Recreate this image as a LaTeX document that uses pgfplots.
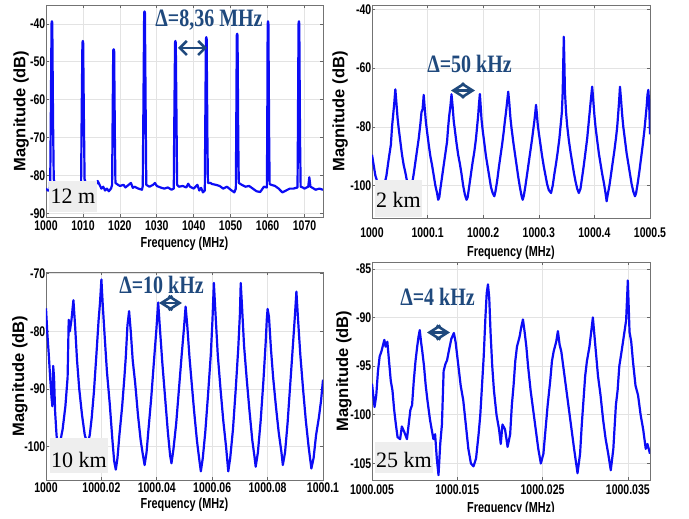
\documentclass[border=0pt]{standalone}
\usepackage{pgfplots}
\pgfplotsset{compat=1.18}
\usetikzlibrary{arrows.meta}
\usepackage{fontspec}
\setmainfont{Liberation Sans}
\newfontfamily\tickfont[FakeStretch=0.75]{Liberation Sans}
\newfontfamily\annfont[FakeStretch=0.8]{Liberation Serif}
\newfontfamily\boxfont{Liberation Serif}
\definecolor{annblue}{RGB}{31,73,125}
\definecolor{boxgray}{RGB}{238,238,238}
\definecolor{lineblue}{RGB}{12,12,245}
\pgfplotsset{
  spec/.style={
    anchor=south west, scale only axis,
    axis line style={black!55, line width=0.7pt},
    tick align=inside, major tick length=3pt,
    tick style={black!60, line width=0.6pt},
    grid=major, major grid style={gray!22, line width=0.6pt},
    ticklabel style={font=\tickfont\bfseries\fontsize{14}{14}\selectfont},
    yticklabel style={inner sep=0.5pt},
    xticklabel style={inner sep=0pt, anchor=north},
    /pgf/number format/assume math mode=true,
    xlabel style={font=\tickfont\bfseries\fontsize{14.5}{14.5}\selectfont, anchor=north, inner sep=0pt},
    ylabel style={font=\bfseries\fontsize{16.5}{16.5}\selectfont, anchor=center, inner sep=0pt},
    xlabel={Frequency (MHz)}, ylabel={Magnitude (dB)},
  },
  spline/.style={lineblue, line width=2.2pt, line join=round, no markers},
}
\begin{document}
\begin{tikzpicture}[x=1pt,y=1pt]
\useasboundingbox (0,0) rectangle (689,519);
% ---------------- Panel 1: 12 m ----------------
\begin{axis}[spec, at={(46pt,302pt)}, width=277pt, height=212pt,
  xmin=1000, xmax=1075, ymin=-91, ymax=-35,
  xtick={1000,1010,1020,1030,1040,1050,1060,1070},
  xticklabels={1000,1010,1020,1030,1040,1050,1060,1070},
  ytick={-90,-80,-70,-60,-50,-40},
  xticklabel style={yshift=-4pt},
  xlabel style={at={(axis description cs:0.5,0)}, yshift=-20pt},
  ylabel style={at={(axis description cs:-0.090,0.5)}}]
\addplot[spline] table {
x y
1000 -83.5
1000.5 -84
1001 -84
1001.15 -81
1001.3 -65
1001.5 -39.8
1001.6 -39.3
1001.7 -39.8
1001.9 -65
1002.1 -81
1002.5 -82.5
1003 -83
1004 -83.2
1005 -82.8
1006 -83.4
1007 -83
1008 -83.6
1009 -83.2
1009.5 -82.5
1009.65 -65
1009.86 -45
1009.96 -44.5
1010.06 -45
1010.26 -65
1010.45 -81
1011 -82.8
1012 -83
1013 -83.5
1014 -81.5
1014.5 -82.5
1015 -83.5
1015.5 -83
1016 -84
1016.5 -83.5
1017 -84.2
1017.6 -83.5
1017.9 -82.5
1018.0 -70
1018.2 -47
1018.32 -46.7
1018.45 -47
1018.65 -70
1018.8 -82
1019.5 -82.5
1020 -82.8
1021 -82.5
1021.5 -83.2
1022 -82.8
1023 -82
1023.5 -83.3
1024 -83
1025 -83.5
1026 -83.8
1026.2 -82.8
1026.35 -65
1026.58 -37
1026.68 -36.7
1026.78 -37
1027 -65
1027.15 -82.5
1028 -83
1029 -82.5
1029.5 -82
1030 -82.8
1031 -83.2
1032 -83.5
1033 -83.2
1034 -83.8
1034.6 -83.5
1034.7 -70
1034.94 -45
1035.04 -44.5
1035.14 -45
1035.38 -70
1035.5 -82.5
1036 -83
1037 -82.8
1038 -83.2
1038.5 -82.2
1039 -83
1040 -83.5
1041 -82.5
1041.5 -84
1042 -83.3
1042.5 -84.5
1043 -84
1043.1 -70
1043.3 -44
1043.4 -43.5
1043.5 -44
1043.7 -70
1043.85 -82
1044.5 -82
1045 -82.3
1046 -82.5
1047 -82.8
1048 -83.5
1049 -83
1050 -83.8
1051 -84.5
1051.4 -83.5
1051.5 -70
1051.66 -43
1051.76 -42.6
1051.86 -43
1052.05 -70
1052.2 -82
1053 -82.5
1054 -83
1055 -82.8
1056 -83.5
1057 -84.2
1058 -84.4
1059 -83
1059.8 -83.2
1059.9 -70
1060.02 -40
1060.12 -39.3
1060.22 -40
1060.42 -70
1060.55 -82.3
1061 -82.5
1062 -82.8
1063 -83.5
1064 -84.5
1065 -84
1066 -83.5
1067 -83.5
1068.1 -83.2
1068.2 -70
1068.38 -40
1068.48 -39.3
1068.58 -40
1068.78 -70
1068.95 -83
1069.5 -83.2
1070 -83.5
1071 -83
1071.3 -80.5
1071.6 -83
1072 -83.2
1073 -83.8
1074 -83.5
1075 -83.8
};
\end{axis}
% ---------------- Panel 2: 2 km (x in kHz above 1000 MHz) ----------------
\begin{axis}[spec, at={(372pt,301pt)}, width=278pt, height=213pt,
  xmin=0, xmax=500, ymin=-111, ymax=-38.5,
  xtick={0,100,200,300,400,500},
  xticklabels={1000,1000.1,1000.2,1000.3,1000.4,1000.5},
  ytick={-100,-80,-60,-40},
  xticklabel style={yshift=-10pt},
  xlabel style={at={(axis description cs:0.5,0)}, yshift=-28pt},
  ylabel style={at={(axis description cs:-0.115,0.5)}}]
\addplot[spline] table {
x y
0 -89.5
3 -93
6 -96.5
10 -99
14 -101.5
18 -102.5
22 -100
26 -96.5
30 -91
34 -86
36 -80
38.5 -75
40 -72
42 -67.2
44 -72
46 -77
48 -80.5
51 -85
54 -89.5
57 -93
60 -95.5
63 -98.5
66 -101
69 -102
72 -99.5
75 -96
78 -92
81 -88
84 -84
87 -79
89 -75
91 -74
93 -69.1
95 -74
97 -78.5
99 -81.5
102 -86
105 -90
108 -93
111 -96.5
114 -100
117 -102.5
119 -104.8
121 -104
123 -101
126 -97
129 -93
132 -89
135 -85
137 -80
139 -76
141 -73
143 -68.9
145 -73
147 -78
149 -81
152 -85.5
155 -89.5
158 -92.5
161 -96
164 -100
167 -103
170 -104.8
172 -104
175 -100
178 -96
181 -92
184 -88.5
187 -84
189 -80
191 -76
192.5 -72
194 -68.8
195.5 -73
197 -77.5
199 -81
202 -85.5
205 -90
208 -93.5
211 -97
214 -100.5
217 -102.5
220 -103.6
222 -102
225 -98.5
228 -94
231 -90
234 -86
237 -81.5
239 -78
241 -75
243 -71.5
245 -68
247 -72
249 -77
251 -80.5
254 -85
257 -89
260 -93
263 -97
266 -100.5
269 -103.5
271 -104.8
273 -103.5
276 -100
279 -96
282 -92
285 -88
288 -84
290 -81
292 -78
293.5 -75.5
295 -72.5
296.5 -75.5
298 -79
300 -82
303 -86
306 -90
309 -93.5
312 -96.5
315 -99.5
318 -101.5
322 -102.5
325 -100
328 -96
331 -92.5
334 -88.5
337 -84
339.5 -79
341.5 -75
343 -68
344 -58
345 -49.3
346 -58
347 -68
349 -75
351 -79.5
354 -84.5
357 -88.5
360 -92
363 -95.5
366 -98.5
369 -101
372 -102.5
375 -101
378 -97
381 -93
384 -88.5
387 -84
389 -80
391 -76
393.5 -71
396 -66.3
398 -71
400 -76
402 -80
405 -84.5
408 -89
411 -92.5
414 -96
417 -99
420 -102.5
422 -105.3
424 -103
427 -100
430 -96
433 -92
436 -88
439 -83.5
441 -80
443 -75
444.5 -71
446 -66.3
448 -71
450 -76
452 -80
455 -84.5
458 -89
461 -92.5
464 -96
467 -99.5
470 -102
473 -103.6
475 -102.5
478 -99
481 -95
484 -90.5
487 -86
490 -81
492 -77
494 -73
495.5 -69
497 -67.4
498.5 -72
500 -82.5
};
\end{axis}
% ---------------- Panel 3: 10 km (x in kHz above 1000 MHz) ----------------
\begin{axis}[spec, at={(46pt,39pt)}, width=277pt, height=208pt,
  xmin=0, xmax=100, ymin=-105.8, ymax=-69.7,
  xtick={0,20,40,60,80,100},
  xticklabels={1000,1000.02,1000.04,1000.06,1000.08,1000.1},
  ytick={-100,-90,-80,-70},
  xticklabel style={yshift=-3pt},
  xlabel style={at={(axis description cs:0.5,0)}, yshift=-18pt},
  ylabel style={at={(axis description cs:-0.094,0.5)}}]
\addplot[spline] table {
x y
0 -76
0.5 -80.5
1 -84
1.5 -88
2 -91.5
2.3 -93
2.6 -86
2.9 -88
3.3 -94
3.8 -98
4.3 -100
5 -99.5
6 -97
7 -93
7.8 -88
8.2 -78
8.6 -80
9.2 -78
9.9 -74.6
10.5 -79
11.2 -85
12 -90
13 -94.5
14 -98
15 -99.5
15.8 -98
16.5 -95
17.3 -90.5
18.2 -84
19 -78
19.5 -75
20 -71
20.5 -75.5
21.2 -81
22 -87
23 -92.5
24 -99
24.6 -102.5
25.2 -104
25.8 -102
26.5 -98
27.5 -93
28.3 -88
28.8 -84.5
29.4 -79
30 -76.5
30.6 -80
31.3 -85
32.2 -89
33.2 -94.5
34.2 -99
35 -101.5
35.6 -103.2
36.3 -101
37 -97
38 -91.5
39 -85
39.8 -80
40.5 -75
41.2 -80
42 -85.5
43 -91.5
44 -97.5
44.8 -101.5
45.3 -102.9
46 -100.5
47 -96
48 -90
49 -84
49.8 -79.5
50.4 -75.7
51 -79
51.8 -84.5
52.6 -89
53.5 -94
54.5 -99
55.4 -102.5
55.9 -104.3
56.6 -102
57.5 -97.5
58.5 -91
59.5 -84
60.1 -78
60.6 -71.6
61.2 -77
62 -84
63 -90
64 -95.5
65 -100
65.8 -104.3
66.5 -102
67.5 -97
68.5 -90
69.4 -83
70 -77
70.3 -71.6
70.8 -76
71.5 -82.5
72.5 -88.5
73.5 -94
74.5 -99
75.2 -101.5
75.7 -103.5
76.5 -101
77.5 -95.5
78.5 -88.5
79.3 -82
79.7 -78
80 -76.1
80.5 -77.5
81.2 -83
82 -88
83 -93
84 -97.5
85 -101
85.5 -103.2
86.3 -101
87.2 -96
88.2 -89
89.2 -82
89.9 -77
90.4 -73.1
91 -78
91.8 -84
92.8 -90
93.8 -95.5
94.8 -100
95.8 -103.8
96.6 -102
97.5 -98
98.5 -95
99.3 -92
100 -88.4
};
\end{axis}
% ---------------- Panel 4: 25 km (x in kHz above 1000 MHz) ----------------
\begin{axis}[spec, at={(372pt,39pt)}, width=278pt, height=218pt,
  xmin=5, xmax=37.6, ymin=-106.7, ymax=-84.3,
  xtick={5,15,25,35},
  xticklabels={1000.005,1000.015,1000.025,1000.035},
  ytick={-105,-100,-95,-90,-85},
  xticklabel style={yshift=-5pt},
  xlabel style={at={(axis description cs:0.5,0)}, yshift=-22pt},
  ylabel style={at={(axis description cs:-0.101,0.5)}}]
\addplot[spline] table {
x y
5 -96.8
5.3 -99.2
5.5 -98
5.7 -95.5
5.9 -94
6.1 -93.5
6.3 -92.8
6.45 -92.3
6.6 -93
6.8 -92.5
7.0 -94.5
7.2 -96.5
7.4 -97.5
7.6 -99.5
7.8 -101
8.0 -102.3
8.3 -102.5
8.5 -101.2
8.8 -101.8
9.1 -102.5
9.3 -101
9.5 -99.5
9.7 -99
9.9 -96.5
10.1 -94.5
10.3 -93
10.45 -92
10.6 -91.3
10.75 -92.5
10.9 -93.5
11.1 -95
11.3 -97
11.5 -98.5
11.8 -100.5
12.0 -101.5
12.2 -102.5
12.4 -102
12.6 -104.5
12.8 -106.2
13.0 -103
13.2 -101
13.4 -95.5
13.6 -94.8
13.8 -94.4
14.0 -93.5
14.3 -92.2
14.6 -91.6
14.8 -92.5
15.0 -94
15.2 -95.5
15.4 -97
15.7 -98.5
16.0 -101
16.3 -103.5
16.6 -105
16.9 -105.3
17.2 -104.5
17.5 -102
17.7 -100
17.9 -97
18.1 -94
18.3 -90
18.45 -87.5
18.6 -86.6
18.75 -88
18.9 -91.5
19.1 -95
19.3 -97.5
19.6 -100
19.9 -101.5
20.1 -103
20.3 -101
20.6 -101.5
20.9 -103.3
21.2 -102
21.4 -99
21.6 -97
21.8 -94.5
22.0 -93
22.3 -92
22.5 -91
22.7 -90.2
22.9 -91.5
23.1 -93
23.3 -95
23.6 -97.5
23.9 -99.5
24.2 -101.5
24.5 -103.5
24.8 -105
25.1 -104
25.3 -102
25.6 -99
25.9 -96.5
26.1 -94.5
26.3 -93.5
26.6 -92.5
26.8 -91.4
27.0 -92.8
27.2 -93.5
27.5 -95.5
27.8 -97.5
28.1 -99.5
28.4 -101.5
28.7 -103.5
29.1 -106
29.4 -104
29.6 -101
29.8 -98.5
30.0 -96
30.2 -94.5
30.5 -93
30.7 -91.5
30.9 -90
31.1 -92
31.3 -94
31.5 -96
31.8 -98
32.1 -100.5
32.4 -102.5
32.7 -104
33.0 -105.7
33.3 -103.5
33.6 -99
33.8 -97.5
34.0 -95
34.3 -93.3
34.6 -91.5
34.8 -90.3
35.0 -86.2
35.2 -91.5
35.4 -92.5
35.6 -94.5
35.9 -97
36.2 -98
36.5 -100
36.8 -101.5
37.1 -103.5
37.3 -103
37.6 -104
};
\end{axis}
% ---------------- annotations ----------------
\fill[white] (345,0) rectangle (689,7);
% distance boxes
\fill[boxgray] (49,307) rectangle (97,338);
\node[anchor=base, inner sep=0pt, font=\boxfont\fontsize{22}{22}\selectfont] at (73,315) {12 m};
\fill[boxgray] (375,302) rectangle (422,339);
\node[anchor=base, inner sep=0pt, font=\boxfont\fontsize{22}{22}\selectfont] at (398.5,311) {2 km};
\fill[boxgray] (50,46) rectangle (108,81);
\node[anchor=base, inner sep=0pt, font=\boxfont\fontsize{22}{22}\selectfont] at (79,51) {10 km};
\fill[boxgray] (375,46) rectangle (433,77);
\node[anchor=base, inner sep=0pt, font=\boxfont\fontsize{22}{22}\selectfont] at (404,51) {25 km};
% spacing labels
\node[anchor=base, inner sep=0pt, text=annblue, font=\annfont\bfseries\fontsize{25}{25}\selectfont] at (209,492) {Δ=8,36 MHz};
\node[anchor=base, inner sep=0pt, text=annblue, font=\annfont\bfseries\fontsize{25}{25}\selectfont] at (469.5,446) {Δ=50 kHz};
\node[anchor=base, inner sep=0pt, text=annblue, font=\annfont\bfseries\fontsize{25}{25}\selectfont] at (161.5,225) {Δ=10 kHz};
\node[anchor=base, inner sep=0pt, text=annblue, font=\annfont\bfseries\fontsize{25}{25}\selectfont] at (437.5,213) {Δ=4 kHz};
% arrows
\draw[annblue, line width=2.6pt, {Straight Barb[length=7pt,width=14pt]}-{Straight Barb[length=7pt,width=14pt]}] (178,471) -- (207,471);
\draw[annblue, line width=2.6pt, {Straight Barb[length=11pt,width=14pt]}-{Straight Barb[length=11pt,width=14pt]}] (451,428.5) -- (475,428.5);
\draw[annblue, line width=2.6pt, {Straight Barb[length=11pt,width=14pt]}-{Straight Barb[length=11pt,width=14pt]}] (159,216) -- (182,216);
\draw[annblue, line width=2.6pt, {Straight Barb[length=11pt,width=14pt]}-{Straight Barb[length=11pt,width=14pt]}] (427,186.5) -- (450,186.5);
\end{tikzpicture}
\end{document}
